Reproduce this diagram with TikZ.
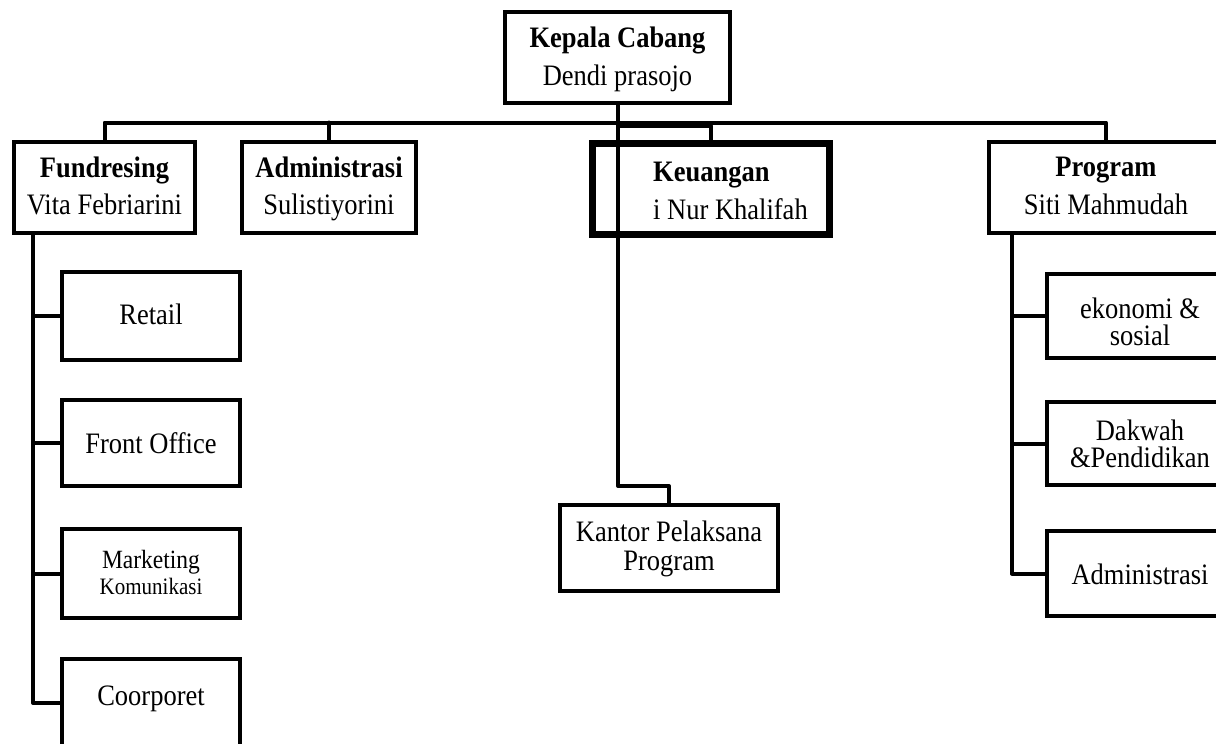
\documentclass[tikz,border=0pt]{standalone}
\usepackage{fontspec}
\usepackage{graphicx}
\setmainfont{Liberation Serif}
\newcommand{\vst}[1]{\scalebox{1}[1.12]{#1}}
\begin{document}
\begin{tikzpicture}[x=1pt,y=-1pt,
  box/.style={draw, line width=4pt, inner sep=0pt, minimum width=#1},
  thickbox/.style={draw, line width=7pt, inner sep=0pt},
  conn/.style={line width=4pt, line join=round, line cap=round},
  txt/.style={anchor=base, inner sep=0pt, font=\fontsize{26.5}{30}\selectfont},
  txtb/.style={txt, font=\fontsize{26.5}{30}\selectfont\bfseries}]
\useasboundingbox (0,0) rectangle (1216,744);
\begin{scope}
\clip (0,0) rectangle (1216,744);
% boxes
\node[box=225pt, minimum height=91pt] (kepala) at (617.5,57.5) {};
\node[box=181pt, minimum height=91pt] (fund) at (104.5,187.5) {};
\node[box=174pt, minimum height=91pt] (admin) at (329,187.5) {};
\node[thickbox, minimum width=237pt, minimum height=91pt] (keu) at (711,189) {};
\node[box=234pt, minimum height=91pt] (prog) at (1106,187.5) {};
\node[box=178pt, minimum height=88pt] (retail) at (151,316) {};
\node[box=178pt, minimum height=86pt] (front) at (151,443) {};
\node[box=178pt, minimum height=89pt] (mark) at (151,573.5) {};
\node[box=178pt, minimum height=88pt] (coor) at (151,703) {};
\node[box=186pt, minimum height=84pt] (eko) at (1140,316) {};
\node[box=186pt, minimum height=83pt] (dak) at (1140,443.5) {};
\node[box=186pt, minimum height=85pt] (adm2) at (1140,573.5) {};
\node[box=218pt, minimum height=86pt] (kantor) at (669,548) {};
% coordinates
\coordinate (barL) at (104.5,122.5);
\coordinate (barR) at (1106,122.5);
\coordinate (kj) at (618,126);
\coordinate (kbend) at (618,486);
\coordinate (fs) at (33,234);
\coordinate (ps) at (1012,233);
% connectors
\draw[conn] (fund.north) -- (barL) -- (barR) -- (prog.north);
\draw[conn] (admin.north) -- (admin.north |- barL);
\draw[conn] (kj) -| (keu.north);
\draw[conn] (kepala.south -| kj) -- (kbend) -| (kantor.north);
\draw[conn] (fs) |- (coor.west);
\foreach \n in {retail,front,mark} \draw[conn] (fs |- \n.west) -- (\n.west);
\draw[conn] (ps) |- (adm2.west);
\foreach \n in {eko,dak} \draw[conn] (ps |- \n.west) -- (\n.west);
% texts
\node[txtb] (t1) at (617.5,47) {\vst{Kepala Cabang}};
\node[txt] (t2) at (617.5,85) {\vst{Dendi prasojo}};
\node[txtb] (t3) at (104.5,177) {\vst{Fundresing}};
\node[txt] (t4) at (104.5,214) {\vst{Vita Febriarini}};
\node[txtb] (t5) at (329,177) {\vst{Administrasi}};
\node[txt] (t6) at (329,214) {\vst{Sulistiyorini}};
\node[txtb, anchor=base west] (t7) at (653,181) {\vst{Keuangan}};
\node[txt, anchor=base west] (t8) at (653,219) {\vst{i Nur Khalifah}};
\node[txtb] (t9) at (1106,176) {\vst{Program}};
\node[txt] (t10) at (1106,214) {\vst{Siti Mahmudah}};
\node[txt] (t11) at (151,324) {\vst{Retail}};
\node[txt] (t12) at (151,453) {\vst{Front Office}};
\node[txt, font=\fontsize{23.5}{26}\selectfont] (t13) at (151,568) {\vst{Marketing}};
\node[txt, font=\fontsize{21}{24}\selectfont] (t14) at (151,594) {\vst{Komunikasi}};
\node[txt] (t15) at (151,705) {\vst{Coorporet}};
\node[txt] (t16) at (1140,318) {\vst{ekonomi \&}};
\node[txt] (t17) at (1140,345) {\vst{sosial}};
\node[txt] (t18) at (1140,440) {\vst{Dakwah}};
\node[txt] (t19) at (1140,467) {\vst{\&Pendidikan}};
\node[txt] (t20) at (1140,584) {\vst{Administrasi}};
\node[txt] (t21) at (669,541) {\vst{Kantor Pelaksana}};
\node[txt] (t22) at (669,570) {\vst{Program}};
\end{scope}
\end{tikzpicture}
\end{document}
